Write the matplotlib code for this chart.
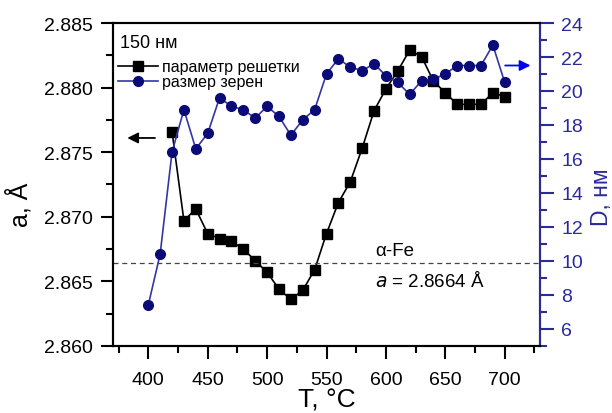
import matplotlib.pyplot as plt
from matplotlib.ticker import MultipleLocator

plt.rcParams['font.family'] = ['Liberation Sans', 'DejaVu Sans']

# lattice parameter (black squares)
temp_a = [420, 430, 440, 450, 460, 470, 480, 490, 500, 510, 520, 530, 540, 550, 560,
          570, 580, 590, 600, 610, 620, 630, 640, 650, 660, 670, 680, 690, 700]
lattice_a = [2.8766, 2.8697, 2.8706, 2.8687, 2.8683, 2.8681, 2.8675, 2.8666, 2.8657,
             2.8644, 2.8636, 2.8643, 2.8659, 2.8687, 2.8711, 2.8727, 2.8753, 2.8782,
             2.8799, 2.8813, 2.8829, 2.8824, 2.8805, 2.8796, 2.8787, 2.8787, 2.8787,
             2.8796, 2.8793]

# grain size (blue circles)
temp_d = [400, 410, 420, 430, 440, 450, 460, 470, 480, 490, 500, 510, 520, 530, 540,
          550, 560, 570, 580, 590, 600, 610, 620, 630, 640, 650, 660, 670, 680, 690, 700]
grain_d = [7.4, 10.4, 16.4, 18.9, 16.6, 17.5, 19.6, 19.1, 18.9, 18.4, 19.1, 18.5, 17.4,
           18.3, 18.9, 21.0, 21.9, 21.4, 21.2, 21.6, 20.9, 20.5, 19.8, 20.6, 20.7, 21.0,
           21.5, 21.5, 21.5, 22.7, 20.5]

a_fe = 2.8664
blue = '#2a2a9a'
navy = '#0b0b78'

fig = plt.figure(figsize=(6.12, 4.14), dpi=100)
ax = fig.add_axes([0.184, 0.162, 0.699, 0.780])
ax2 = ax.twinx()

l1, = ax.plot(temp_a, lattice_a, color='black', lw=1.2, marker='s', ms=6.5,
              label='параметр решетки')
l2, = ax2.plot(temp_d, grain_d, color='#3535a5', lw=1.2, marker='o', ms=7,
               mfc=navy, mec=navy, label='размер зерен')

ax.axhline(a_fe, color='#444444', lw=0.9, ls=(0, (4, 3)))

ax.set_xlim(370, 730)
ax.set_ylim(2.860, 2.885)
ax2.set_ylim(5, 24)

ax.xaxis.set_major_locator(MultipleLocator(50))
ax.xaxis.set_minor_locator(MultipleLocator(25))
ax.yaxis.set_major_locator(MultipleLocator(0.005))
ax.yaxis.set_minor_locator(MultipleLocator(0.0025))
ax.yaxis.set_major_formatter(plt.FormatStrFormatter('%.3f'))
ax2.yaxis.set_major_locator(MultipleLocator(2))
ax2.yaxis.set_minor_locator(MultipleLocator(1))

for sp in ax.spines.values():
    sp.set_linewidth(1.5)
for sp in ax2.spines.values():
    sp.set_linewidth(1.5)
ax2.spines['right'].set_color(blue)

ax.tick_params(axis='both', which='major', direction='out', length=9, width=1.5,
               labelsize=14)
ax.tick_params(axis='both', which='minor', direction='out', length=5, width=1.5)
ax.tick_params(axis='x', which='major', pad=9)
ax.tick_params(axis='y', which='major', pad=5)
ax2.tick_params(axis='y', which='major', direction='out', length=10, width=1.5,
                labelsize=14, colors=blue, pad=5)
ax2.tick_params(axis='y', which='minor', direction='out', length=5, width=1.5,
                colors=blue)

ax.set_xlabel('T, °C', fontsize=19, labelpad=0)
ax.set_ylabel('a, Å', fontsize=18)
ax.yaxis.set_label_coords(-0.187, 0.44)
ax2.set_ylabel('D, нм', fontsize=16.5, color=blue)
ax2.yaxis.set_label_coords(1.115, 0.465)

# arrows pointing to the axes
ax.annotate('', xy=(380, 2.8761), xytext=(408, 2.8761),
            arrowprops=dict(arrowstyle='-|>', color='black', lw=1.3,
                            mutation_scale=16))
ax2.annotate('', xy=(724, 21.5), xytext=(698, 21.5),
             arrowprops=dict(arrowstyle='-|>', color='#0000ee', lw=1.3,
                             mutation_scale=16))

ax.text(591, a_fe + 0.0003, 'α-Fe', fontsize=13.5, va='bottom')
ax.text(591, a_fe - 0.0005, '$a$ = 2.8664 Å', fontsize=13.5, va='top')

ax.text(0.017, 0.94, '150 нм', transform=ax.transAxes, fontsize=13, va='center')
ax2.legend([l1, l2], ['параметр решетки', 'размер зерен'], loc='upper left',
           bbox_to_anchor=(0.012, 0.888), frameon=False, fontsize=11.5,
           handlelength=2.5, handletextpad=0.25, labelspacing=0.0,
           borderpad=0, borderaxespad=0)

fig.savefig('out.png', dpi=100)
